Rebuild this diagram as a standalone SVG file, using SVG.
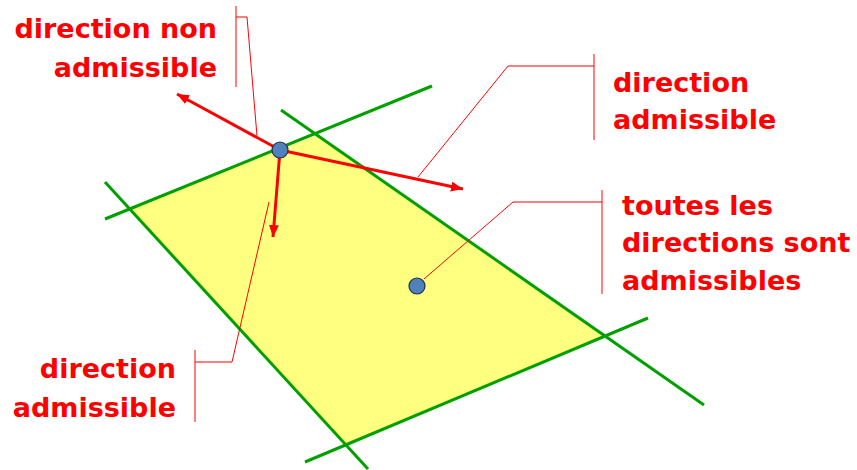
<svg xmlns="http://www.w3.org/2000/svg" width="857" height="470" viewBox="0 0 857 470">
<style>
.g{stroke:#00A000;stroke-width:3;fill:none;stroke-linecap:butt}
.a{stroke:#FF0000;stroke-width:3;fill:none}
.c{stroke:#FF0000;stroke-width:1;fill:none}
.t{font-family:"DejaVu Sans",Verdana,sans-serif;font-weight:bold;font-size:27px;fill:#FF0000}
.p{fill:#4F81BD;stroke:#1F2F4F;stroke-width:1.2}
</style>
<defs>
<marker id="ah" markerUnits="userSpaceOnUse" markerWidth="14" markerHeight="12" refX="12" refY="5" orient="auto">
<path d="M0,0 L12,5 L0,10 Z" fill="#FF0000"/>
</marker>
</defs>
<rect width="857" height="470" fill="#FFFFFF"/>
<g id="region">
<polygon points="130,209 317,135 605,337 346,444" fill="#FFFF80"/>
</g>
<g id="lines">
<line class="g" x1="105" y1="219" x2="432" y2="86"/>
<line class="g" x1="105" y1="182" x2="368" y2="469"/>
<line class="g" x1="281" y1="110" x2="704" y2="405"/>
<line class="g" x1="305" y1="462" x2="648" y2="318"/>
</g>
<g id="connectors">
<line class="a" x1="280" y1="150" x2="177" y2="94" marker-end="url(#ah)"/>
<line class="a" x1="280" y1="150" x2="463" y2="189" marker-end="url(#ah)"/>
<line class="a" x1="280" y1="150" x2="273" y2="237" marker-end="url(#ah)"/>
<polyline class="c" points="236,6 236,87"/>
<polyline class="c" points="236,17 247,17 257,136"/>
<polyline class="c" points="594,54 594,140"/>
<polyline class="c" points="594,66 508,66 418,177"/>
<polyline class="c" points="602,190 602,294"/>
<polyline class="c" points="602,202 513,202 424,279"/>
<polyline class="c" points="195,350 195,422"/>
<polyline class="c" points="195,362 232,362 269,202"/>
</g>
<g id="point-boundary">
<circle class="p" cx="280" cy="150" r="8"/>
</g>
<g id="point-interior">
<circle class="p" cx="417" cy="286" r="8"/>
</g>
<g id="label-non-admissible">
<text class="t" x="217" y="38" text-anchor="end">direction non</text>
<text class="t" x="217" y="77" text-anchor="end">admissible</text>
</g>
<g id="label-admissible-right">
<text class="t" x="613" y="92">direction</text>
<text class="t" x="613" y="129">admissible</text>
</g>
<g id="label-toutes">
<text class="t" x="622" y="215">toutes les</text>
<text class="t" x="622" y="252">directions sont</text>
<text class="t" x="622" y="290">admissibles</text>
</g>
<g id="label-admissible-left">
<text class="t" x="176" y="378" text-anchor="end">direction</text>
<text class="t" x="176" y="417" text-anchor="end">admissible</text>
</g>
</svg>
